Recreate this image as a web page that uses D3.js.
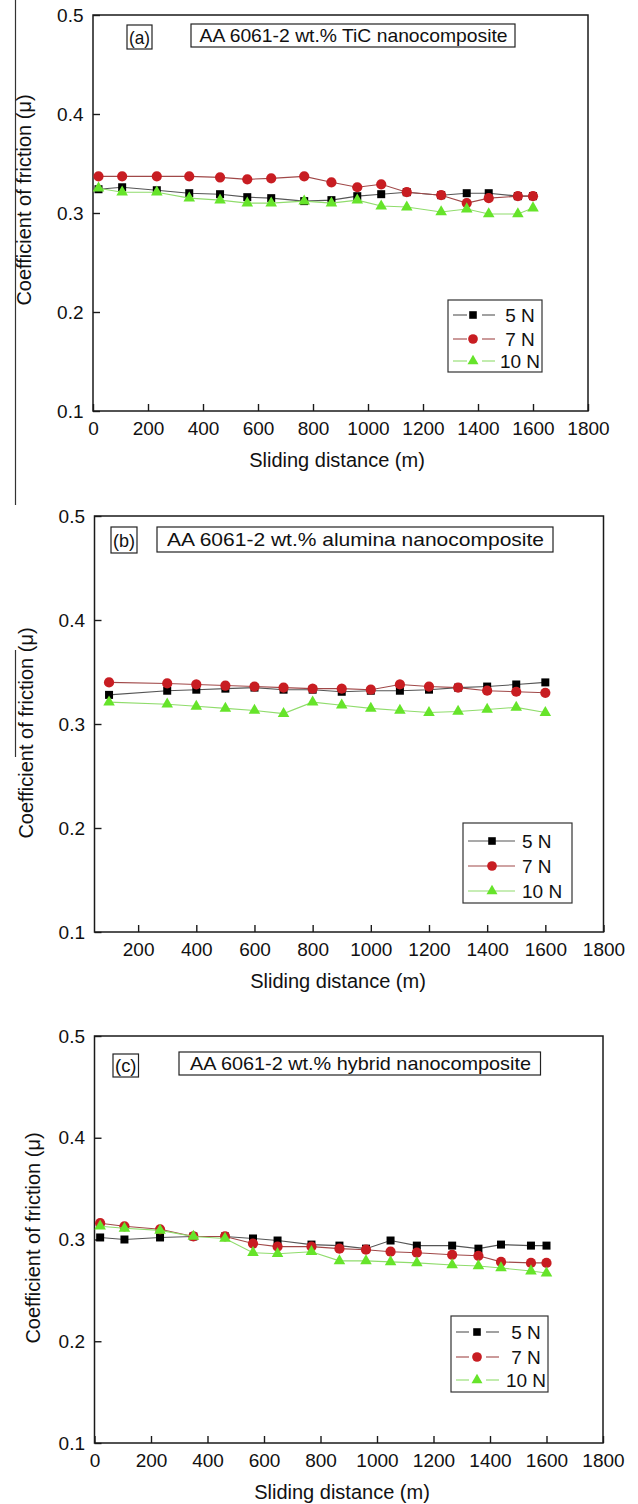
<!DOCTYPE html>
<html>
<head>
<meta charset="utf-8">
<script src="https://cdn.jsdelivr.net/npm/d3@7"></script>
<style>
  body { margin: 0; background: #fff; }
  svg { display: block; font-family: "Liberation Sans", Arial, Helvetica, sans-serif; }
</style>
</head>
<body>
<div id="chart"></div>
<script>
// sliding distances (m) for the TiC and hybrid runs
const distA = [20, 106, 232, 350, 462, 561, 648, 768, 867, 961, 1048, 1141, 1266, 1359, 1439, 1545, 1600];
const distC = [20, 106, 232, 350, 462, 561, 648, 768, 867, 961, 1048, 1141, 1266, 1359, 1439, 1545, 1600];
// alumina run
const distB = [100, 300, 400, 500, 600, 700, 800, 900, 1000, 1100, 1200, 1300, 1400, 1500, 1600];

// (a) AA 6061-2 wt.% TiC
const cofA5  = [0.324, 0.326, 0.323, 0.320, 0.319, 0.316, 0.315, 0.312, 0.313, 0.317, 0.319, 0.321, 0.318, 0.320, 0.320, 0.317, 0.317];
const cofA7  = [0.337, 0.337, 0.337, 0.337, 0.336, 0.334, 0.335, 0.337, 0.331, 0.326, 0.329, 0.321, 0.318, 0.310, 0.315, 0.317, 0.317];
const cofA10 = [0.325, 0.321, 0.321, 0.315, 0.313, 0.310, 0.310, 0.312, 0.310, 0.313, 0.307, 0.306, 0.301, 0.304, 0.299, 0.299, 0.305];

// (b) AA 6061-2 wt.% alumina
const cofB5  = [0.328, 0.332, 0.333, 0.334, 0.335, 0.333, 0.333, 0.331, 0.332, 0.332, 0.333, 0.335, 0.336, 0.338, 0.340];
const cofB7  = [0.340, 0.339, 0.338, 0.337, 0.336, 0.335, 0.334, 0.334, 0.333, 0.338, 0.336, 0.335, 0.332, 0.331, 0.330];
const cofB10 = [0.321, 0.319, 0.317, 0.315, 0.313, 0.310, 0.321, 0.318, 0.315, 0.313, 0.311, 0.312, 0.314, 0.316, 0.311];

// (c) AA 6061-2 wt.% hybrid
const cofC5  = [0.302, 0.300, 0.302, 0.303, 0.303, 0.301, 0.299, 0.295, 0.294, 0.291, 0.299, 0.294, 0.294, 0.291, 0.295, 0.294, 0.294];
const cofC7  = [0.316, 0.313, 0.310, 0.303, 0.303, 0.296, 0.293, 0.293, 0.291, 0.290, 0.288, 0.287, 0.285, 0.284, 0.278, 0.277, 0.277];
const cofC10 = [0.313, 0.311, 0.309, 0.303, 0.301, 0.287, 0.286, 0.288, 0.279, 0.279, 0.278, 0.277, 0.275, 0.274, 0.272, 0.269, 0.267];

const loads = ["5 N", "7 N", "10 N"];
const panelTags = ["(a)", "(b)", "(c)"];
const panelTitles = ["AA 6061-2 wt.% TiC nanocomposite", "AA 6061-2 wt.% alumina nanocomposite", "AA 6061-2 wt.% hybrid nanocomposite"];
const yTicks = [0.1, 0.2, 0.3, 0.4, 0.5];
const xTicksFull = [0, 200, 400, 600, 800, 1000, 1200, 1400, 1600, 1800];
const xTicksB = [200, 400, 600, 800, 1000, 1200, 1400, 1600, 1800];
const xTitle = "Sliding distance (m)";
const yTitle = "Coefficient of friction (\u03bc)";

const fills = ["#000000", "#c81d22", "#66e42a"];
const strokes = ["#555555", "#a04848", "#90dc6c"];
const shapes = [d3.symbolSquare, d3.symbolCircle, d3.symbolTriangle];
const sizes = [64, 82, 58];

const W = 638, H = 1504;
const svg = d3.select("#chart").append("svg").attr("width", W).attr("height", H);

// stray rules along the left margin of the scan
svg.append("line").attr("x1", 15.5).attr("x2", 15.5).attr("y1", 0).attr("y2", 505)
  .attr("stroke", "#333").attr("stroke-width", 1.2);
svg.append("line").attr("x1", 15.5).attr("x2", 15.5).attr("y1", 650).attr("y2", 757)
  .attr("stroke", "#333").attr("stroke-width", 1.2);

const panels = [
  { dist: distA, series: [cofA5, cofA7, cofA10], xdom: [0, 1800], xticks: xTicksFull,
    left: 93, right: 588, top: 15, bottom: 411,
    tag: [127, 25, 152, 49], tbox: [191, 24, 515, 47], tx: 199.6, tw: 308,
    ytx: 31, yty: 200, xtx: 337,
    leg: { box: [448, 300, 542, 372], rows: [315, 339, 361], segs: [[453, 467], [482, 495]], mx: 473, tx: 520, anchor: "middle" } },
  { dist: distB, series: [cofB5, cofB7, cofB10], xdom: [50, 1800], xticks: xTicksB,
    left: 94.5, right: 603.5, top: 516, bottom: 932,
    tag: [111, 527, 137, 553], tbox: [157, 527, 553, 552], tx: 167, tw: 377,
    ytx: 33, yty: 733, xtx: 338,
    leg: { box: [463, 823, 572, 903], rows: [841, 866, 891], segs: [[468, 515]], mx: 492, tx: 522, anchor: "start" } },
  { dist: distC, series: [cofC5, cofC7, cofC10], xdom: [0, 1800], xticks: xTicksFull,
    left: 94.5, right: 603, top: 1036, bottom: 1443,
    tag: [113, 1054, 138.5, 1077], tbox: [179, 1052, 540.5, 1075], tx: 190, tw: 341,
    ytx: 40, yty: 1238, xtx: 342,
    leg: { box: [451, 1316, 548, 1392], rows: [1332, 1357, 1380], segs: [[456, 469], [486, 499]], mx: 477, tx: 526, anchor: "middle" } }
];

panels.forEach((p, pi) => {
  const x = d3.scaleLinear().domain(p.xdom).range([p.left, p.right]);
  const y = d3.scaleLinear().domain([0.1, 0.5]).range([p.bottom, p.top]);
  const g = svg.append("g");

  // axes with inward ticks
  const ya = g.append("g").attr("transform", `translate(${p.left},0)`)
    .call(d3.axisLeft(y).tickValues(yTicks).tickFormat(d3.format(".1f"))
      .tickSizeInner(-7).tickSizeOuter(0).tickPadding(9.5));
  const xa = g.append("g").attr("transform", `translate(0,${p.bottom})`)
    .call(d3.axisBottom(x).tickValues(p.xticks).tickFormat(d3.format("d"))
      .tickSizeInner(-7).tickSizeOuter(0).tickPadding(10.5));
  [ya, xa].forEach(a => {
    a.attr("font-family", null).attr("font-size", 19);
    a.select(".domain").remove();
    a.selectAll("line").attr("stroke", "#1a1a1a").attr("stroke-width", 1.4);
    a.selectAll("text").attr("fill", "#111");
  });

  // frame
  g.append("rect").attr("x", p.left).attr("y", p.top)
    .attr("width", p.right - p.left).attr("height", p.bottom - p.top)
    .attr("fill", "none").attr("stroke", "#1a1a1a").attr("stroke-width", 1.5);

  // axis titles
  g.append("text").attr("x", p.xtx).attr("y", p.bottom + 56)
    .attr("text-anchor", "middle").attr("font-size", 20).attr("fill", "#111")
    .text(xTitle);
  g.append("text").attr("transform", `translate(${p.ytx},${p.yty}) rotate(-90)`)
    .attr("text-anchor", "middle").attr("font-size", 20).attr("fill", "#111")
    .text(yTitle);

  // series: black, red, green
  p.series.forEach((vals, si) => {
    const pts = p.dist.map((d, i) => [d, vals[i]]);
    g.append("path").datum(pts)
      .attr("fill", "none").attr("stroke", strokes[si]).attr("stroke-width", 1.1)
      .attr("d", d3.line().x(d => x(d[0])).y(d => y(d[1])));
    g.selectAll(null).data(pts).enter().append("path")
      .attr("transform", d => `translate(${x(d[0])},${y(d[1])})`)
      .attr("d", d3.symbol().type(shapes[si]).size(sizes[si]))
      .attr("fill", fills[si]);
  });

  // panel tag and title boxes
  const t = p.tag;
  g.append("rect").attr("x", t[0]).attr("y", t[1]).attr("width", t[2] - t[0]).attr("height", t[3] - t[1])
    .attr("fill", "#fff").attr("stroke", "#222").attr("stroke-width", 1.2);
  g.append("text").attr("x", (t[0] + t[2]) / 2).attr("y", (t[1] + t[3]) / 2)
    .attr("dy", "0.35em").attr("text-anchor", "middle").attr("font-size", 19).attr("fill", "#111")
    .attr("textLength", t[2] - t[0] - 4).attr("lengthAdjust", "spacingAndGlyphs")
    .text(panelTags[pi]);
  const b = p.tbox;
  g.append("rect").attr("x", b[0]).attr("y", b[1]).attr("width", b[2] - b[0]).attr("height", b[3] - b[1])
    .attr("fill", "#fff").attr("stroke", "#222").attr("stroke-width", 1.2);
  g.append("text").attr("x", p.tx).attr("y", (b[1] + b[3]) / 2)
    .attr("dy", "0.35em").attr("font-size", 19).attr("fill", "#111")
    .attr("textLength", p.tw).attr("lengthAdjust", "spacingAndGlyphs")
    .text(panelTitles[pi]);

  // legend
  const L = p.leg;
  g.append("rect").attr("x", L.box[0]).attr("y", L.box[1])
    .attr("width", L.box[2] - L.box[0]).attr("height", L.box[3] - L.box[1])
    .attr("fill", "#fff").attr("stroke", "#333").attr("stroke-width", 1.2);
  loads.forEach((lab, si) => {
    const ry = L.rows[si];
    L.segs.forEach(s => {
      g.append("line").attr("x1", s[0]).attr("x2", s[1]).attr("y1", ry).attr("y2", ry)
        .attr("stroke", strokes[si]).attr("stroke-width", 1.1);
    });
    g.append("path").attr("transform", `translate(${L.mx},${ry})`)
      .attr("d", d3.symbol().type(shapes[si]).size(sizes[si] * 0.9))
      .attr("fill", fills[si]);
    g.append("text").attr("x", L.tx).attr("y", ry).attr("dy", "0.36em")
      .attr("text-anchor", L.anchor).attr("font-size", 19).attr("fill", "#111")
      .text(lab);
  });
});
</script>
</body>
</html>
